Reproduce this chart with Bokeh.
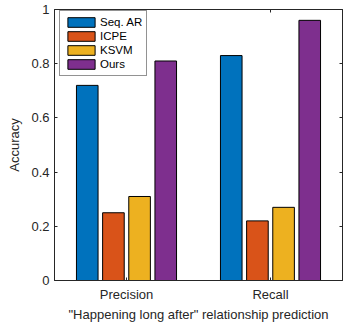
from bokeh.plotting import figure
from bokeh.models import Range1d, FixedTicker, LinearAxis, Legend, LegendItem
from bokeh.embed import file_html
from bokeh.resources import INLINE

categories = ["Precision", "Recall"]
series = ["Seq. AR", "ICPE", "KSVM", "Ours"]
seq_ar = [0.72, 0.83]
icpe = [0.25, 0.22]
ksvm = [0.31, 0.27]
ours = [0.81, 0.96]
y_ticks = [0, 0.2, 0.4, 0.6, 0.8, 1]
colors = ["#0072BD", "#D95319", "#EDB120", "#7E2F8E"]

FONT = "Liberation Sans"
TXT = "#262626"

p = figure(width=351, height=325, output_backend="svg", toolbar_location=None,
           x_range=Range1d(0.5, 2.5), y_range=Range1d(0, 1),
           min_border_left=54, min_border_right=9, min_border_top=9, min_border_bottom=45)
p.grid.visible = False
p.outline_line_color = TXT
p.outline_line_alpha = 0.7
p.background_fill_color = "white"
p.border_fill_color = "white"

xs = [i + 1 for i in range(len(categories))]
offsets = [-0.2725, -0.0908, 0.0908, 0.2725]
bar_w = 0.15
items = []
for vals, off, col, name in zip([seq_ar, icpe, ksvm, ours], offsets, colors, series):
    r = p.vbar(x=[x + off for x in xs], top=vals, width=bar_w, bottom=0,
               fill_color=col, line_color="black", line_width=1)
    items.append(LegendItem(label=name, renderers=[r]))

def style_axis(ax, labels=True):
    ax.axis_line_color = TXT
    ax.major_tick_line_color = TXT
    ax.major_tick_in = 3
    ax.major_tick_out = 0
    ax.minor_tick_line_color = None
    ax.major_label_text_font = FONT
    ax.axis_label_text_font = FONT
    ax.axis_label_text_font_style = "normal"
    ax.axis_label_text_color = TXT
    ax.axis_label_text_font_size = "13px"
    if labels:
        ax.major_label_text_color = TXT
        ax.major_label_text_font_size = "13px"
    else:
        ax.major_label_text_color = None
        ax.major_label_text_font_size = "0px"
        ax.major_label_standoff = 0

p.xaxis.ticker = FixedTicker(ticks=xs)
p.xaxis.major_label_overrides = {x: c for x, c in zip(xs, categories)}
p.xaxis.axis_label = "\"Happening long after\" relationship prediction"
p.xaxis.major_label_standoff = 6
p.xaxis.axis_label_standoff = 2
p.yaxis.ticker = FixedTicker(ticks=y_ticks)
p.yaxis.major_label_overrides = {0: "0", 1: "1"}
p.yaxis.axis_label = "Accuracy"
p.yaxis.major_label_standoff = 5
p.yaxis.axis_label_standoff = 6
style_axis(p.xaxis[0])
style_axis(p.yaxis[0])

# box on: inward ticks on the top and right edges
top = LinearAxis(ticker=FixedTicker(ticks=xs))
style_axis(top, labels=False)
p.add_layout(top, "above")
right = LinearAxis(ticker=FixedTicker(ticks=y_ticks))
style_axis(right, labels=False)
p.add_layout(right, "right")

legend = Legend(items=items, location=(5, 204), margin=0, padding=4, spacing=0,
                glyph_width=34, glyph_height=12, label_height=14, label_standoff=2,
                label_text_font=FONT, label_text_font_size="11.5px", label_text_color="black",
                border_line_color=TXT, border_line_width=1, background_fill_alpha=1)
p.add_layout(legend)

open("out.html", "w").write(file_html(p, INLINE))
